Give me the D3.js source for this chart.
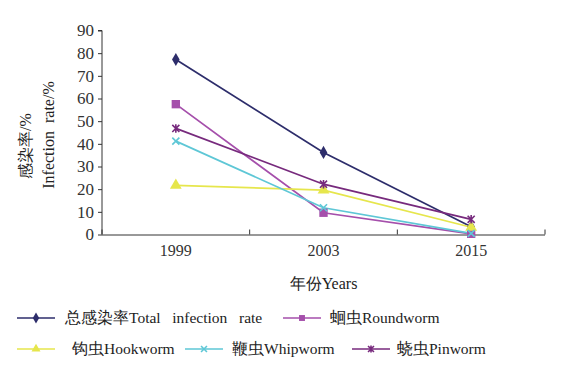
<!DOCTYPE html>
<html><head><meta charset="utf-8">
<script src="https://cdn.jsdelivr.net/npm/d3@7"></script>
<style>body{margin:0;background:#fff}svg{font-family:"Liberation Serif","DejaVu Serif",serif}</style>
</head><body><svg id="c" width="587" height="369"></svg>
<script>
const years = ["1999","2003","2015"];
const yTicks = [0,10,20,30,40,50,60,70,80,90];
const seriesNames = ["总感染率Total   infection   rate","蛔虫Roundworm","钩虫Hookworm","鞭虫Whipworm","蛲虫Pinworm"];
const seriesColors = ["#2d2d6b","#a54fab","#e6e64c","#5ec7d6","#772a7d"];
const seriesSymbols = ["diamond","square","triangle","x","star"];
const total = [77.2, 36.2, 3.4];
const roundworm = [57.5, 9.6, 0.3];
const hookworm = [21.7, 19.6, 3.2];
const whipworm = [41.2, 11.8, 0.5];
const pinworm = [46.8, 22.2, 6.7];
const seriesValues = [total, roundworm, hookworm, whipworm, pinworm];

const svg = d3.select("#c");
const L=102, R=545, T=30.5, B=234.5;
const x = d3.scaleBand().domain(years).range([L,R]);
const y = d3.scaleLinear().domain([0,90]).range([B,T]);

const ya = svg.append("g").attr("transform",`translate(${L},0)`)
  .call(d3.axisLeft(y).tickValues(yTicks).tickSize(4).tickPadding(4));
ya.selectAll("text").attr("font-size",17).attr("fill","#333").attr("font-family","Liberation Serif");
ya.selectAll("line,path").attr("stroke","#333");
ya.select(".domain").attr("d",`M-4,${T}H0V${B}`);

const xa = svg.append("g").attr("transform",`translate(0,${B})`)
  .call(d3.axisBottom(x).tickSize(0).tickPadding(10));
xa.selectAll("text").attr("font-size",16).attr("fill","#333").attr("font-family","Liberation Serif");
xa.select(".domain").attr("stroke","#333").attr("d",`M${L},0.5H${R}`);
const bounds = years.map(v=>x(v)).concat([R]);
svg.append("g").selectAll("line").data(bounds).join("line")
  .attr("x1",d=>d).attr("x2",d=>d).attr("y1",B).attr("y2",B-5).attr("stroke","#333");

svg.append("text").attr("transform",`translate(${x("2003")+x.bandwidth()/2},289)`)
  .attr("text-anchor","middle").attr("font-size",16).attr("fill","#222").text("年份Years");
svg.append("text").attr("transform","translate(31,146) rotate(-90)")
  .attr("text-anchor","middle").attr("font-size",16).attr("fill","#222").text("感染率/%");
svg.append("text").attr("transform","translate(54,135) rotate(-90)")
  .attr("text-anchor","middle").attr("font-size",16).attr("fill","#222").attr("word-spacing",4).text("Infection rate/%");

function sym(g, type, color, size){
  if(type==="x"){
    const s=Math.sqrt(size)*0.5;
    g.append("path").attr("d",`M${-s},${-s}L${s},${s}M${-s},${s}L${s},${-s}`).attr("stroke",color).attr("stroke-width",1.6).attr("fill","none");
  } else if(type==="star"){
    const s=Math.sqrt(size)*0.5;
    g.append("path").attr("d",`M${-s},${-s}L${s},${s}M${-s},${s}L${s},${-s}M0,${-s*1.2}V${s*1.2}`).attr("stroke",color).attr("stroke-width",1.6).attr("fill","none");
  } else {
    const t={diamond:d3.symbolDiamond,square:d3.symbolSquare,triangle:d3.symbolTriangle}[type];
    g.append("path").attr("d",d3.symbol().type(t).size(size)()).attr("fill",color);
  }
}

const line = d3.line().x((d,i)=>x(years[i])+x.bandwidth()/2).y(d=>y(d));
seriesValues.forEach((vals,k)=>{
  svg.append("path").datum(vals).attr("d",line).attr("fill","none")
    .attr("stroke",seriesColors[k]).attr("stroke-width",1.7);
});
const markerSizes=[50,70,60,50,50];
seriesValues.forEach((vals,k)=>{
  vals.forEach((v,i)=>{
    const g=svg.append("g").attr("transform",`translate(${x(years[i])+x.bandwidth()/2},${y(v)})`);
    sym(g,seriesSymbols[k],seriesColors[k],markerSizes[k]);
  });
});

const legPos = [[17,318],[283,318],[17,349],[185,349],[352,349]];
const textX = [65,330,72,232,397];
seriesNames.forEach((n,k)=>{
  const [lx,ly]=legPos[k];
  svg.append("line").attr("x1",lx).attr("x2",lx+38).attr("y1",ly).attr("y2",ly)
    .attr("stroke",seriesColors[k]).attr("stroke-width",1.7);
  const g=svg.append("g").attr("transform",`translate(${lx+19},${ly})`);
  sym(g,seriesSymbols[k],seriesColors[k],35);
  svg.append("text").attr("x",textX[k]).attr("y",ly+5).attr("font-size",15.5).attr("fill","#222")
    .attr("xml:space","preserve").style("white-space","pre").text(n);
});
</script></body></html>
